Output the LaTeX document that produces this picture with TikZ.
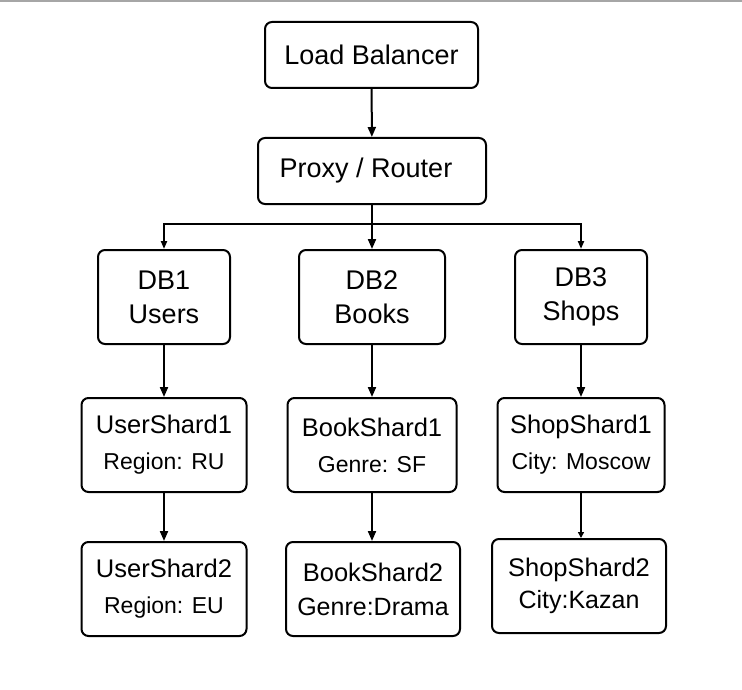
\documentclass[tikz,border=0pt]{standalone}
\usepackage{fontspec}
\setmainfont{Liberation Sans}
\usetikzlibrary{arrows.meta,
	positioning}

\begin{document}
\begin{tikzpicture}[x=1pt,y=-1pt,>={Triangle[length=10pt,width=8pt]}]
    \tikzstyle{box}=[draw,line width=2pt,rounded corners=7pt,align=center,inner sep=0pt,font=\fontsize{27}{31}\selectfont]
    \tikzstyle{shard}=[box,minimum height=94pt,font=\fontsize{25.5}{30}\selectfont]
    \tikzstyle{link}=[line width=2pt,->]
    \useasboundingbox (0,0) rectangle (742,690);
    \draw[gray!70,line width=2pt] (0,1) -- (742,1);
    \node[box,minimum width=213pt,minimum height=66pt] (lb) at (371.5,55) {Load Balancer};
    \node[box,minimum width=228pt,minimum height=66pt] (proxy) at (372,171) {Proxy / Router\hspace{12pt}};
    \node[box,minimum width=132pt,minimum height=94pt] (db_1) at (164,297) {DB1\\[3pt]Users};
    \node[box,minimum width=146pt,minimum height=94pt] (db_2) at (372,297) {DB2\\[3pt]Books};
    \node[box,minimum width=132pt,minimum height=94pt] (db_3) at (581,297) {DB3\\[3pt]Shops};
    \node[shard,minimum width=165pt] (us_1) at (164,445) {UserShard1\\[6pt]{\fontsize{23}{26}\selectfont Region: RU}};
    \node[shard,minimum width=169pt] (bs_1) at (372,445) {BookShard1\\[6pt]{\fontsize{23}{26}\selectfont Genre: SF}};
    \node[shard,minimum width=167pt] (ss_1) at (581,445) {ShopShard1\\[6pt]{\fontsize{23}{26}\selectfont City: Moscow}};
    \node[shard,minimum width=165pt] (us_2) at (164,589) {UserShard2\\[6pt]{\fontsize{23}{26}\selectfont Region: EU}};
    \node[shard,minimum width=174pt] (bs_2) at (373,589) {BookShard2\\[4pt]{\fontsize{25}{28}\selectfont Genre:Drama}};
    \node[shard,minimum width=174pt] (ss_2) at (579,586) {ShopShard2\\[2pt]{\fontsize{25}{28}\selectfont City:Kazan}};
    \coordinate (split) at (372,224);
    \draw[link] (lb) -- (proxy);
    \draw[line width=2pt] (proxy) -- (split);
    \draw[link,>={Triangle[length=8pt,width=6pt]}] (split) -| (db_1);
    \draw[link] (split) -- (db_2);
    \draw[link,>={Triangle[length=8pt,width=6pt]}] (split) -| (db_3);
    \draw[link] (db_1) -- (us_1);
    \draw[link] (db_2) -- (bs_1);
    \draw[link] (db_3) -- (ss_1);
    \draw[link] (us_1) -- (us_2);
    \draw[link] (bs_1) -- (bs_1 |- bs_2.north);
    \draw[link,>={Triangle[length=6pt,width=6pt]}] (ss_1) -- (ss_1 |- ss_2.north);
\end{tikzpicture}
\end{document}
